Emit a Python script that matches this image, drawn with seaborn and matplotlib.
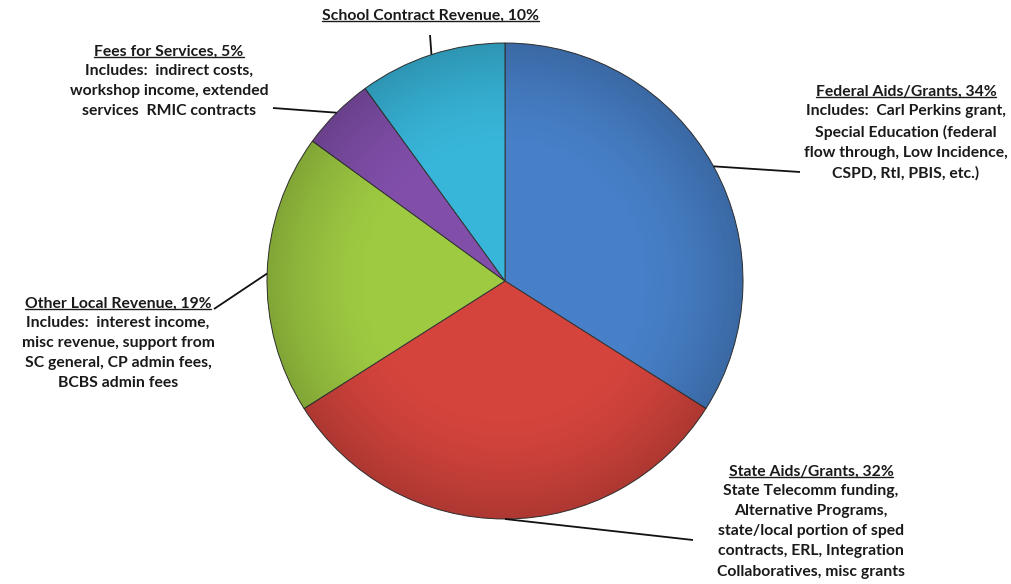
import matplotlib
matplotlib.use("Agg")
import matplotlib.pyplot as plt
from matplotlib.patches import Circle
import seaborn as sns
import numpy as np

# ---- data ----
categories = ["Federal Aids/Grants", "State Aids/Grants", "Other Local Revenue",
              "Fees for Services", "School Contract Revenue"]
values = [34, 32, 19, 5, 10]
details = [
    "Includes:  Carl Perkins grant,\nSpecial Education (federal\nflow through, Low Incidence,\nCSPD, RtI, PBIS, etc.)",
    "State Telecomm funding,\nAlternative Programs,\nstate/local portion of sped\ncontracts, ERL, Integration\nCollaboratives, misc grants",
    "Includes:  interest income,\nmisc revenue, support from\nSC general, CP admin fees,\nBCBS admin fees",
    "Includes:  indirect costs,\nworkshop income, extended\nservices  RMIC contracts",
    "",
]
colors = ["#4780C8", "#D4443D", "#9ECA42", "#814FAA", "#38B6DA"]

sns.set_theme(style="white")
plt.rcParams['font.family'] = ['Lato', 'DejaVu Sans']

W, H = 1012, 584
fig = plt.figure(figsize=(W / 100, H / 100), dpi=100)
fig.patch.set_facecolor("white")
ax = fig.add_axes([0, 0, 1, 1])

cx, cy, R = 505, H - 281, 238
wedges, _ = ax.pie(values, colors=colors, startangle=90, counterclock=False,
                   center=(cx, cy), radius=R,
                   wedgeprops=dict(edgecolor="#333333", linewidth=0.7))

# subtle rim shading (decoration)
n = 400
gx, gy = np.meshgrid(np.linspace(-1, 1, n), np.linspace(-1, 1, n))
rr = np.sqrt(gx ** 2 + gy ** 2)
shade = np.zeros((n, n, 4))
shade[..., 3] = np.clip((rr - 0.55) / 0.45, 0, 1) ** 1.6 * 0.18
im = ax.imshow(shade, extent=(cx - R, cx + R, cy - R, cy + R), origin="lower",
               zorder=3, interpolation="bilinear")
clip = Circle((cx, cy), R, transform=ax.transData)
im.set_clip_path(clip)

ax.set_xlim(0, W)
ax.set_ylim(0, H)
ax.set_aspect("equal")
ax.axis("off")

# label layout (pixel coords from top-left)
label_pos = [(906, 92), (811, 472), (118, 304), (169, 52), (431, 16)]
leader_end = [(800, 172), (693, 540), (214, 309), (273, 108), (430, 35)]

fs = 11.3
txtc = "#1a1a1a"
titles = []
for cat, v, det, (lx, ly) in zip(categories, values, details, label_pos):
    t = ax.text(lx, H - ly, f"{cat}, {v}%", ha="center", va="center",
                fontsize=fs, fontweight="bold", color=txtc)
    titles.append(t)
    if det:
        ax.text(lx, H - ly - 12, det, ha="center", va="top", fontsize=fs,
                fontweight="bold", color=txtc, linespacing=1.56)

# leader lines
for w, (ex, ey) in zip(wedges, leader_end):
    th = np.deg2rad((w.theta1 + w.theta2) / 2)
    sx, sy = cx + R * np.cos(th), cy + R * np.sin(th)
    ax.plot([sx, ex], [sy, H - ey], color="#111111", lw=1.3,
            solid_capstyle="butt", zorder=4)

# underline titles
fig.canvas.draw()
inv = ax.transData.inverted()
for t in titles:
    bb = t.get_window_extent()
    (x0, y0), (x1, _) = inv.transform([(bb.x0, bb.y0), (bb.x1, bb.y1)])
    ax.plot([x0, x1], [y0 + 2, y0 + 2], color=txtc, lw=1.0)

fig.savefig("out.png", dpi=100, facecolor="white")
